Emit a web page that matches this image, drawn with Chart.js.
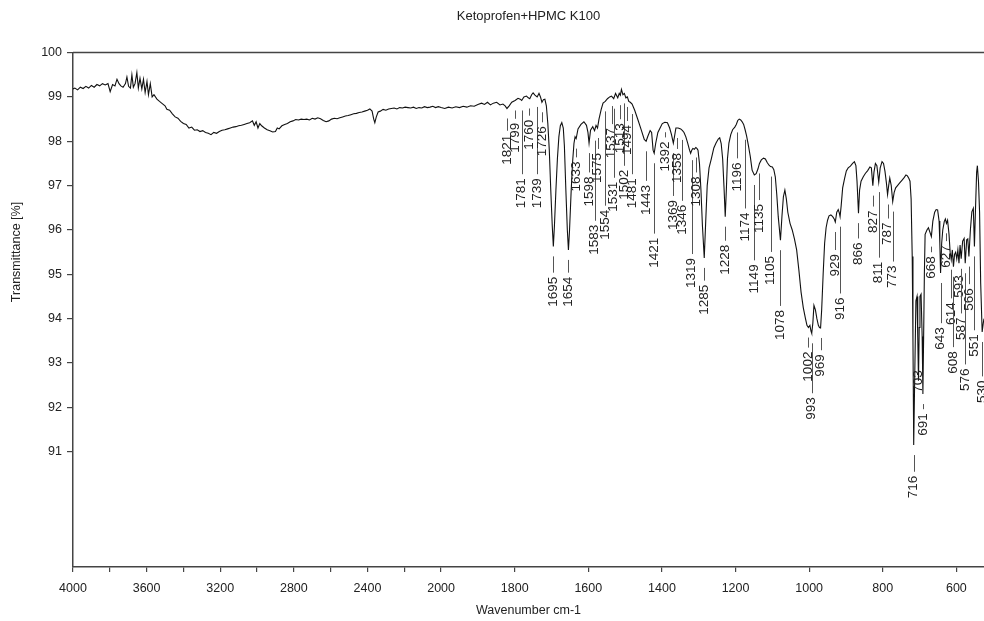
<!DOCTYPE html>
<html>
<head>
<meta charset="utf-8">
<title>Ketoprofen+HPMC K100</title>
<script src="https://cdn.jsdelivr.net/npm/chart.js@4.4.1/dist/chart.umd.min.js"></script>
<style>
  html, body { margin: 0; padding: 0; background: #fff; }
  #wrap { position: relative; width: 984px; height: 621px; }
</style>
</head>
<body>
<div id="wrap"><canvas id="ftirChart"></canvas></div>
<script>
// Spectrum: wavenumber (cm-1) and transmittance (%)
const wavenumbers = [
  4000, 3990, 3975, 3960, 3945, 3930, 3915, 3900, 3885, 3870,
  3855, 3840, 3825, 3810, 3798, 3785, 3772, 3761, 3750, 3740,
  3728, 3715, 3707, 3698, 3688, 3680, 3672, 3663, 3653, 3645,
  3636, 3626, 3617, 3608, 3598, 3590, 3580, 3570, 3560, 3544,
  3530, 3515, 3500, 3490, 3475, 3460, 3445, 3430, 3415, 3400,
  3385, 3370, 3355, 3340, 3325, 3310, 3295, 3280, 3265, 3250,
  3235, 3220, 3205, 3190, 3175, 3160, 3145, 3130, 3115, 3100,
  3085, 3070, 3055, 3040, 3025, 3015, 3005, 2995, 2985, 2975,
  2960, 2945, 2930, 2915, 2900, 2890, 2880, 2865, 2850, 2835,
  2820, 2805, 2790, 2775, 2760, 2745, 2730, 2715, 2700, 2685,
  2670, 2655, 2640, 2625, 2610, 2595, 2580, 2565, 2550, 2535,
  2520, 2505, 2490, 2475, 2460, 2445, 2430, 2415, 2400, 2387,
  2375, 2366, 2360, 2352, 2342, 2330, 2315, 2300, 2285, 2270,
  2255, 2240, 2225, 2210, 2195, 2180, 2165, 2150, 2135, 2120,
  2105, 2090, 2075, 2060, 2045, 2030, 2015, 2000, 1990, 1980,
  1970, 1960, 1950, 1940, 1930, 1920, 1910, 1900, 1890, 1882,
  1874, 1866, 1858, 1849, 1840, 1832, 1826, 1821, 1815, 1808,
  1799, 1791, 1785, 1781, 1775, 1768, 1763, 1759, 1754, 1750,
  1745, 1739, 1734, 1730, 1726, 1722, 1718, 1714, 1710, 1706,
  1702, 1698, 1695, 1692, 1688, 1684, 1680, 1676, 1672, 1668,
  1665, 1661, 1657, 1654, 1651, 1647, 1643, 1639, 1636, 1633,
  1628, 1620, 1612, 1605, 1601, 1598, 1594, 1588, 1583, 1579,
  1575, 1571, 1565, 1560, 1554, 1548, 1542, 1537, 1531, 1526,
  1520, 1516, 1513, 1510, 1506, 1502, 1498, 1494, 1490, 1486,
  1481, 1474, 1465, 1456, 1448, 1443, 1438, 1432, 1428, 1424,
  1421, 1417, 1411, 1405, 1399, 1392, 1385, 1379, 1374, 1369,
  1366, 1362, 1356, 1349, 1344, 1340, 1335, 1330, 1325, 1322,
  1319, 1316, 1312, 1308, 1305, 1302, 1298, 1294, 1290, 1285,
  1281, 1277, 1272, 1266, 1259, 1253, 1247, 1243, 1239, 1235,
  1231, 1228, 1225, 1222, 1218, 1213, 1208, 1202, 1198, 1194,
  1190, 1186, 1182, 1178, 1174, 1170, 1165, 1160, 1155, 1149,
  1144, 1139, 1135, 1130, 1124, 1119, 1114, 1109, 1105, 1100,
  1096, 1092, 1088, 1084, 1078, 1074, 1070, 1066, 1062, 1058,
  1052, 1046, 1040, 1034, 1028, 1022, 1016, 1010, 1006, 1002,
  998, 995, 993, 990, 987, 983, 979, 975, 972, 969,
  966, 962, 958, 954, 950, 946, 941, 936, 932, 929,
  925, 921, 918, 916, 913, 909, 904, 899, 894, 888,
  882, 877, 873, 870, 866, 863, 859, 853, 847, 841,
  835, 831, 827, 824, 820, 816, 811, 807, 802, 798,
  794, 790, 787, 784, 781, 777, 773, 769, 765, 760,
  754, 748, 742, 737, 733, 729, 726, 723, 720, 718,
  716, 713, 710, 707, 705, 703, 701, 699, 696, 693,
  691, 689, 687, 685, 680, 676, 672, 668, 664, 659,
  655, 651, 647, 645, 643, 640, 637, 633, 630, 627,
  624, 620, 617, 614, 611, 608, 605, 602, 599, 596,
  593, 590, 587, 583, 579, 576, 572, 569, 566, 562,
  558, 554, 551, 548, 545, 543, 540, 537, 534, 530,
  527, 525
];
const transmittance = [
  99.18, 99.2, 99.16, 99.22, 99.19, 99.24, 99.2, 99.26, 99.22, 99.28,
  99.25, 99.3, 99.27, 99.3, 99.12, 99.28, 99.25, 99.4, 99.3, 99.25,
  99.22, 99.3, 99.45, 99.24, 99.2, 99.5, 99.22, 99.3, 99.55, 99.2,
  99.42, 99.18, 99.4, 99.1, 99.35, 99.05, 99.3, 99.0, 99.05, 98.95,
  98.9, 98.85, 98.8, 98.72, 98.7, 98.62, 98.55, 98.52, 98.45, 98.4,
  98.38, 98.3, 98.32, 98.25, 98.26, 98.22, 98.24, 98.2, 98.18, 98.15,
  98.2, 98.18, 98.22, 98.25, 98.26, 98.28, 98.3, 98.32, 98.33, 98.35,
  98.36, 98.38, 98.4, 98.42, 98.46, 98.36, 98.44, 98.3, 98.4, 98.35,
  98.3, 98.26, 98.24, 98.21, 98.22, 98.3, 98.28, 98.35, 98.38, 98.4,
  98.44, 98.46, 98.49, 98.48, 98.5, 98.49, 98.5, 98.48, 98.52, 98.5,
  98.53, 98.51, 98.47, 98.44, 98.46, 98.5, 98.52, 98.51, 98.53, 98.55,
  98.57, 98.58, 98.6, 98.62, 98.63, 98.65, 98.66, 98.68, 98.7, 98.73,
  98.68, 98.5, 98.42, 98.55, 98.66, 98.68, 98.72, 98.7, 98.73, 98.74,
  98.75, 98.73, 98.76, 98.75, 98.77, 98.76, 98.75, 98.77, 98.74, 98.76,
  98.75, 98.78, 98.76, 98.77, 98.79, 98.76, 98.78, 98.76, 98.74, 98.77,
  98.75, 98.78, 98.76, 98.79, 98.77, 98.8, 98.79, 98.83, 98.86, 98.83,
  98.88, 98.82, 98.86, 98.88, 98.82, 98.84, 98.8, 98.74, 98.8, 98.88,
  98.92, 98.97, 98.95, 98.92, 99.0, 99.02, 98.98, 98.96, 99.05, 99.09,
  99.04, 99.0, 99.08, 99.0, 98.88, 98.94, 98.95, 98.8, 98.4, 97.8,
  96.9, 96.1, 95.63, 96.1, 96.9, 97.6, 98.1, 98.35, 98.42, 98.3,
  97.9, 96.9, 96.0, 95.55, 96.0, 96.8, 97.5, 97.95, 98.1, 98.06,
  98.28, 98.38, 98.44, 98.36, 98.2, 97.96, 98.25, 98.33, 98.24, 98.36,
  98.3, 98.5, 98.72, 98.86, 98.9, 98.96, 99.0, 99.02, 98.96, 99.08,
  98.98, 99.08, 99.04, 99.17, 99.05, 99.08, 98.98, 99.0, 98.9, 98.88,
  98.84, 98.7, 98.48, 98.25, 98.04, 98.0, 98.12, 98.24, 98.2, 97.8,
  97.73, 97.95, 98.2, 98.3, 98.4, 98.43, 98.42, 98.3, 98.15, 97.96,
  98.1, 98.3, 98.3, 98.28, 98.24, 98.2, 98.1, 97.96, 97.8, 97.73,
  97.8, 97.84, 97.82, 97.86, 97.84, 97.8, 97.5, 96.9, 96.1, 95.37,
  96.2, 97.0, 97.4, 97.6, 97.85, 97.96, 98.05, 98.08, 97.95, 97.6,
  96.9, 96.3, 96.9, 97.6, 97.96, 98.15, 98.26, 98.32, 98.38, 98.47,
  98.5, 98.48, 98.44, 98.38, 98.26, 98.12, 97.9, 97.66, 97.35, 97.24,
  97.27, 97.38, 97.5, 97.58, 97.62, 97.6, 97.52, 97.46, 97.43, 97.42,
  97.36, 97.2, 96.8, 96.3, 95.77, 96.3, 96.75, 96.9, 96.7, 96.4,
  96.15, 96.0, 95.8, 95.55, 95.1, 94.6, 94.25, 94.0, 93.85, 93.8,
  93.85, 93.72, 93.67, 93.9, 94.3, 94.2, 94.0, 93.85, 93.8, 93.79,
  94.2, 95.0, 95.7, 96.05, 96.22, 96.32, 96.34, 96.3, 96.25, 96.18,
  96.4, 96.46, 96.38, 96.3, 96.55, 96.95, 97.15, 97.33, 97.4, 97.44,
  97.5, 97.54, 97.45, 97.1, 96.38, 96.9, 97.1, 97.2, 97.28, 97.34,
  97.42, 97.4, 97.0, 97.3, 97.5, 97.45, 97.08, 97.4, 97.54, 97.5,
  97.32, 97.05, 96.8, 97.0, 97.17, 97.0, 96.64, 96.85, 96.95, 97.0,
  97.06, 97.12, 97.18, 97.24, 97.22, 97.16, 97.1, 96.7, 95.4, 93.5,
  91.15, 92.8, 94.4, 94.5, 93.6, 92.6, 93.8, 94.5, 94.55, 93.6,
  92.3, 93.6, 95.0, 95.9, 96.0, 96.05, 95.95, 95.85, 96.2, 96.4,
  96.46, 96.45, 96.2, 95.7, 95.03, 95.7, 96.0, 96.19, 96.25, 96.15,
  96.22, 95.9, 95.5, 95.33, 95.55, 95.17, 95.45, 95.5, 95.35, 95.55,
  95.25, 95.66, 95.35, 95.75, 95.81, 95.25, 95.78, 95.8, 95.4, 96.0,
  96.41, 96.49, 95.63, 96.5, 97.3, 97.45, 97.1, 96.4, 94.8, 93.7,
  93.9, 94.0
];

// Peak picks and the transmittance level where each label text begins
const peakWavenumbers = [
  1821, 1799, 1781, 1760, 1739, 1726, 1695, 1654, 1633, 1598,
  1583, 1575, 1554, 1537, 1531, 1513, 1502, 1494, 1481, 1443,
  1421, 1392, 1369, 1358, 1346, 1319, 1308, 1285, 1228, 1196,
  1174, 1149, 1135, 1105, 1078, 1002, 993, 969, 929, 916,
  866, 827, 811, 787, 773, 716, 703, 691, 668, 643,
  627, 614, 608, 593, 587, 576, 566, 551, 530
];
const peakLabelLevels = [
  97.47, 97.74, 96.49, 97.81, 96.49, 97.66, 94.27, 94.27, 96.87, 96.53,
  95.44, 97.06, 95.78, 97.62, 96.41, 97.73, 96.68, 97.69, 96.49, 96.34,
  95.15, 97.32, 96.0, 97.06, 95.89, 94.69, 96.53, 94.09, 94.99, 96.87,
  95.74, 94.57, 95.93, 94.76, 93.52, 92.58, 91.72, 92.69, 94.95, 93.97,
  95.21, 95.93, 94.8, 95.66, 94.69, 89.95, 92.33, 91.36, 94.9, 93.3,
  95.15, 93.86, 92.76, 94.47, 93.52, 92.37, 94.18, 93.14, 92.1
];

// Axis ticks
const xTickWavenumbers = [4000, 3800, 3600, 3400, 3200, 3000, 2800, 2600, 2400, 2200,
  2000, 1800, 1600, 1400, 1200, 1000, 800, 600];
const xTickLabels = [4000, 3600, 3200, 2800, 2400, 2000, 1800, 1600, 1400, 1200, 1000, 800, 600];
const yTickValues = [91, 92, 93, 94, 95, 96, 97, 98, 99, 100];

const FONT = "'Liberation Sans', Arial, sans-serif";
Chart.defaults.font.family = FONT;
Chart.defaults.color = '#222';

// above 2000 cm-1 the plot is compressed by half
function toAxis(w) { return w <= 2000 ? w : 2000 + (w - 2000) / 2; }
function fromAxis(u) { return u <= 2000 ? u : 2000 + (u - 2000) * 2; }

function curveAt(w) {
  for (let i = 0; i < wavenumbers.length - 1; i++) {
    const a = wavenumbers[i], b = wavenumbers[i + 1];
    if (w <= a && w >= b) {
      const t = (a - w) / (a - b);
      return transmittance[i] + t * (transmittance[i + 1] - transmittance[i]);
    }
  }
  return transmittance[transmittance.length - 1];
}

// Peak labels with leader lines
const peakLabels = {
  id: 'peakLabels',
  afterDatasetsDraw(chart) {
    const { ctx, scales: { x, y } } = chart;
    ctx.save();
    ctx.font = '13.5px ' + FONT;
    ctx.fillStyle = '#222';
    ctx.strokeStyle = '#555';
    ctx.lineWidth = 1;
    peakWavenumbers.forEach((w, i) => {
      const px = x.getPixelForValue(toAxis(w));
      const bottom = y.getPixelForValue(peakLabelLevels[i]);
      const text = String(w);
      const tw = ctx.measureText(text).width;
      ctx.save();
      ctx.translate(px, bottom);
      ctx.rotate(-Math.PI / 2);
      ctx.textAlign = 'left';
      ctx.textBaseline = 'middle';
      ctx.fillText(text, 0, 0);
      ctx.restore();
      const lineStart = bottom - tw - 4;
      const lineEnd = y.getPixelForValue(curveAt(w)) + 10;
      if (lineStart - lineEnd > 2) {
        const lx = Math.round(px) + 0.5;
        ctx.beginPath();
        ctx.moveTo(lx, lineStart);
        ctx.lineTo(lx, lineEnd);
        ctx.stroke();
      }
    });
    ctx.restore();
  }
};

// Top frame line and the y axis caption
const frame = {
  id: 'frame',
  afterDraw(chart) {
    const { ctx, chartArea } = chart;
    ctx.save();
    ctx.strokeStyle = '#444';
    ctx.lineWidth = 1.5;
    ctx.beginPath();
    ctx.moveTo(chartArea.left, chartArea.top);
    ctx.lineTo(chartArea.right, chartArea.top);
    ctx.stroke();
    ctx.translate(17, 252);
    ctx.rotate(-Math.PI / 2);
    ctx.font = '12.5px ' + FONT;
    ctx.fillStyle = '#222';
    ctx.textAlign = 'center';
    ctx.textBaseline = 'middle';
    ctx.fillText('Transmittance [%]', 0, 0);
    ctx.restore();
  }
};

const ctx = document.getElementById('ftirChart').getContext('2d');
const chart = new Chart(ctx, {
  type: 'line',
  data: {
    datasets: [{
      label: 'Ketoprofen+HPMC K100',
      data: wavenumbers.map((w, i) => ({ x: toAxis(w), y: transmittance[i] })),
      borderColor: '#111',
      borderWidth: 1.1,
      pointRadius: 0,
      tension: 0,
      fill: false
    }]
  },
  options: {
    responsive: true,
    maintainAspectRatio: false,
    animation: false,
    layout: { padding: 0 },
    plugins: {
      legend: { display: false },
      tooltip: { enabled: false },
      title: {
        display: true,
        text: 'Ketoprofen+HPMC K100',
        fullSize: false,
        color: '#222',
        font: { size: 13, weight: 'normal' },
        padding: { top: 9, bottom: 28 }
      }
    },
    scales: {
      x: {
        type: 'linear',
        reverse: true,
        min: 525,
        max: 3000,
        afterBuildTicks: (scale) => {
          scale.ticks = xTickWavenumbers.map(w => ({ value: toAxis(w) }))
            .sort((a, b) => a.value - b.value);
        },
        afterFit: (scale) => { scale.height = 54; },
        ticks: {
          autoSkip: false,
          maxRotation: 0,
          padding: 9,
          font: { size: 12.5 },
          callback: (value) => {
            const w = Math.round(fromAxis(value));
            return xTickLabels.includes(w) ? String(w) : '';
          }
        },
        grid: {
          drawOnChartArea: false,
          drawTicks: true,
          tickLength: 5,
          color: '#444',
          lineWidth: 1.2
        },
        border: { display: true, color: '#444', width: 1.5 },
        title: {
          display: true,
          text: 'Wavenumber cm-1',
          font: { size: 12.5 },
          padding: { top: 0, bottom: 3 }
        }
      },
      y: {
        min: 88.4,
        max: 100,
        afterBuildTicks: (scale) => {
          scale.ticks = yTickValues.map(v => ({ value: v }));
        },
        afterFit: (scale) => { scale.width = 73; },
        ticks: {
          padding: 5,
          font: { size: 12.5 }
        },
        grid: {
          drawOnChartArea: false,
          drawTicks: true,
          tickLength: 6,
          color: '#444',
          lineWidth: 1.2
        },
        border: { display: true, color: '#444', width: 1.5 }
      }
    }
  },
  plugins: [peakLabels, frame]
});
</script>
</body>
</html>
